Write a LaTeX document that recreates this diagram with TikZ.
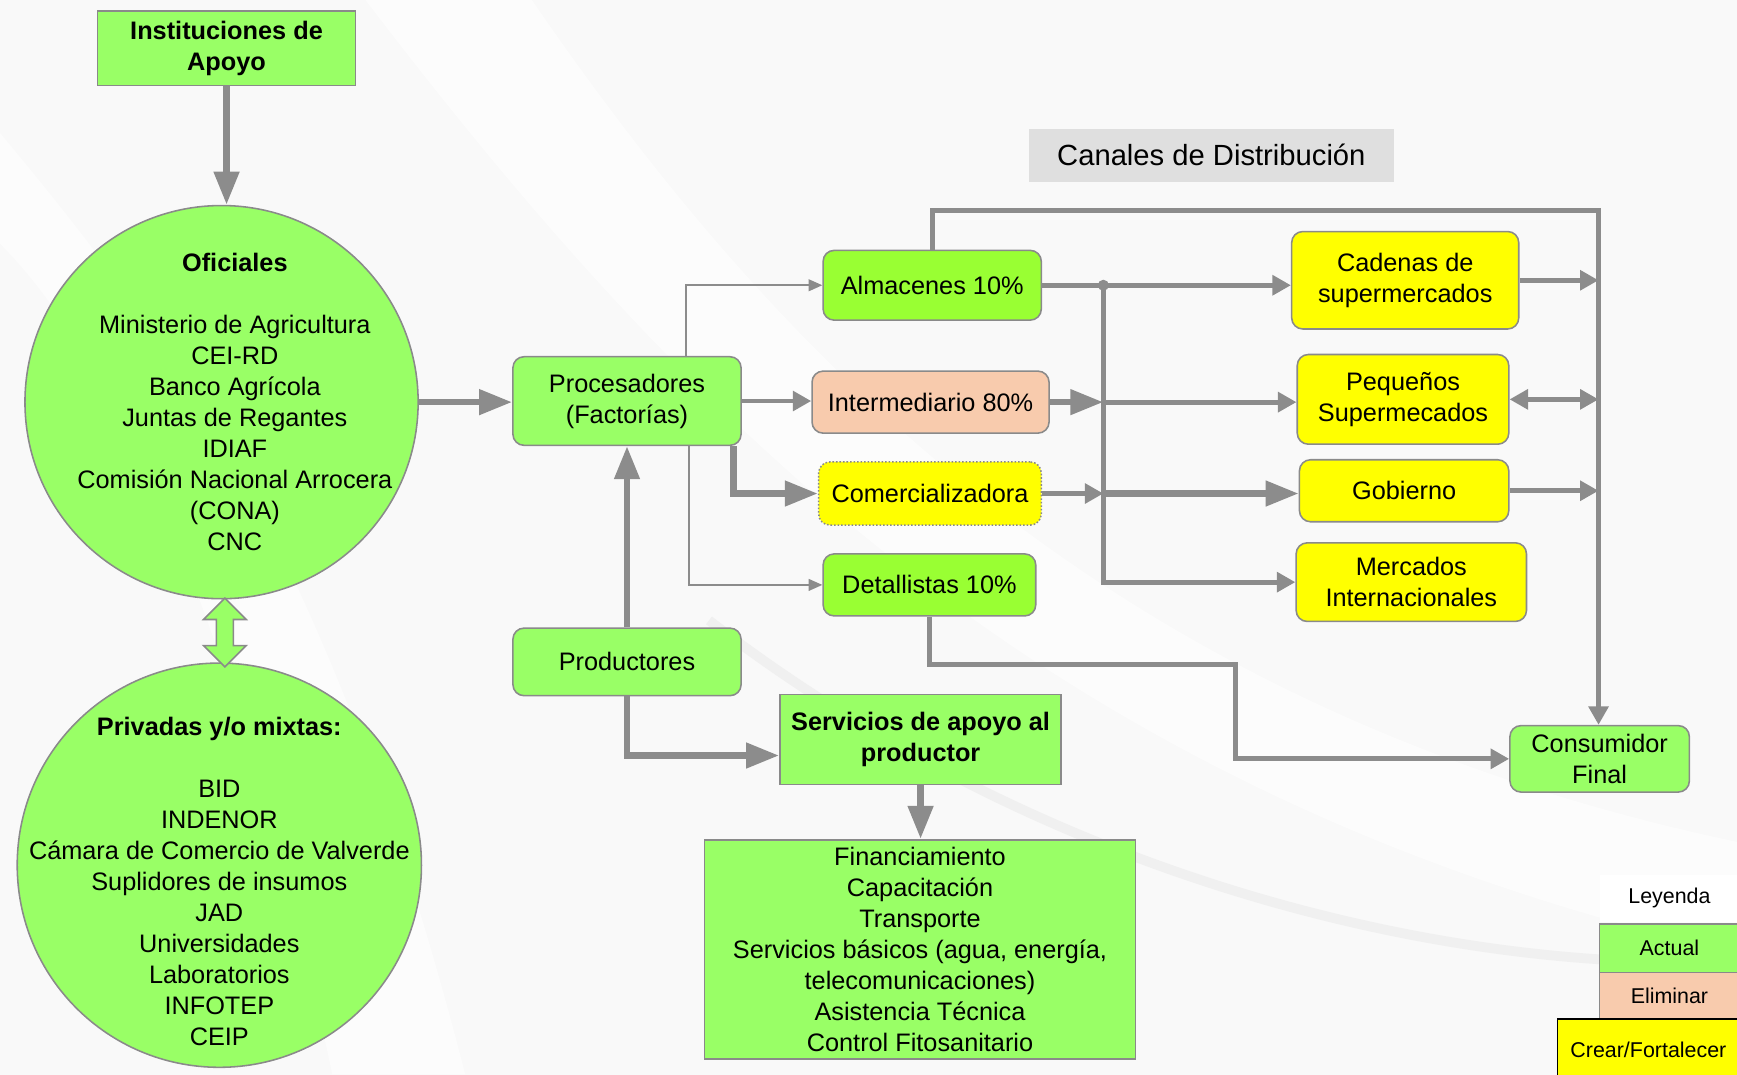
\documentclass[tikz,border=0pt]{standalone}
\usepackage{fontspec}
\setmainfont{Liberation Sans}
\usepackage{tikz}
\usetikzlibrary{positioning}
\usetikzlibrary{arrows.meta}
\usetikzlibrary{shapes.arrows}

\definecolor{verde}{HTML}{99FF66}
\definecolor{lima}{HTML}{99FF33}
\definecolor{salmon}{HTML}{F8CBAD}
\definecolor{amarillo}{HTML}{FFFF00}
\definecolor{linea}{HTML}{8C8C8C}
\definecolor{borde}{HTML}{8A8A8A}

\begin{document}
\begin{tikzpicture}[x=0.02cm,y=-0.02cm,
  every node/.style={font=\fontsize{13}{15.9}\selectfont, align=center},
  negrita/.style={font=\fontsize{13}{15.9}\selectfont\bfseries},
  caja/.style={draw=borde, line width=0.8pt, fill=verde, inner sep=1pt},
  rcaja/.style={caja, rounded corners=0.2cm},
  circulo/.style={caja, circle},
  flujo/.style={draw=linea, line width=3.4pt, -{Triangle[length=17pt,width=12.5pt]}},
  medio/.style={draw=linea, line width=2.5pt, -{Triangle[length=9.5pt,width=10pt]}},
  fino/.style={draw=linea, line width=0.9pt, -{Triangle[length=7pt,width=6pt]}},
  ley/.style={caja, minimum width=2.52cm, font=\fontsize{11}{13}\selectfont}]

\useasboundingbox (0,0) rectangle (1568,970);
\clip (0,0) rectangle (1568,970);
% fondo
\fill[gray!5] (0,0) rectangle (1568,970);
\fill[white, opacity=0.6] (330,0) .. controls (620,380) and (950,720) .. (1568,860)
  -- (1568,760) .. controls (1000,640) and (700,320) .. (480,0) -- cycle;
\fill[white, opacity=0.5] (0,120) .. controls (150,300) and (300,500) .. (420,970)
  -- (300,970) .. controls (200,500) and (80,300) .. (0,220) -- cycle;
\draw[gray!12, line width=5pt] (640,560) .. controls (900,760) and (1200,850) .. (1444,866);

% instituciones
\node[caja, negrita, minimum width=4.66cm, minimum height=1.34cm] (inst) at (204.5,43.5) {Instituciones de\\Apoyo};
\node[circulo, minimum size=7.1cm] (ofi) at (200,363) {};
\node at ([xshift=0.24cm]ofi.center) {\textbf{Oficiales}\\[15.9pt]Ministerio de Agricultura\\CEI-RD\\Banco Agrícola\\Juntas de Regantes\\IDIAF\\Comisión Nacional Arrocera\\(CONA)\\CNC};
\node[circulo, minimum size=7.3cm] (priv) at (198,781) {};
\node at ([yshift=-0.29cm]priv.center) {\textbf{Privadas y/o mixtas:}\\[15.9pt]BID\\INDENOR\\Cámara de Comercio de Valverde\\Suplidores de insumos\\JAD\\Universidades\\Laboratorios\\INFOTEP\\CEIP};
\node[double arrow, draw=borde, fill=verde, line width=0.8pt, rotate=90, minimum height=1.24cm, inner sep=0.14cm, double arrow head extend=0.23cm] (dbl) at (203,571) {};

% cadena
\node[rcaja, minimum width=4.12cm, minimum height=1.6cm] (proc) at (566,362) {Procesadores\\(Factorías)};
\node[rcaja, minimum width=4.12cm, minimum height=1.22cm] (prod) at (566,597.5) {Productores};
\node[caja, negrita, minimum width=5.08cm, minimum height=1.62cm] (serv) at (831,667.5) {Servicios de apoyo al\\productor};
\node[caja, minimum width=7.78cm, minimum height=3.96cm] (fin) at (830.5,857) {Financiamiento\\Capacitación\\Transporte\\Servicios básicos (agua, energía,\\telecomunicaciones)\\Asistencia Técnica\\Control Fitosanitario};

\node[rcaja, fill=lima, minimum width=3.94cm, minimum height=1.26cm] (alm) at (841.5,257.5) {Almacenes 10\%};
\node[rcaja, fill=salmon, minimum width=4.28cm, minimum height=1.12cm] (inter) at (840,363) {Intermediario 80\%};
\node[rcaja, fill=amarillo, densely dotted, minimum width=4.02cm, minimum height=1.14cm] (com) at (839.5,445.5) {Comercializadora};
\node[rcaja, fill=lima, minimum width=3.84cm, minimum height=1.12cm] (det) at (839,528) {Detallistas 10\%};

\node[fill=gray!25, minimum width=6.58cm, minimum height=0.96cm, font=\fontsize{15}{18}\selectfont] (tit) at (1093.5,140) {Canales de Distribución};
\node[rcaja, fill=amarillo, minimum width=4.1cm, minimum height=1.76cm] (cad) at (1268.5,253) {Cadenas de\\supermercados};
\node[rcaja, fill=amarillo, minimum width=3.82cm, minimum height=1.62cm] (peq) at (1266.5,360.5) {Pequeños\\Supermecados};
\node[rcaja, fill=amarillo, minimum width=3.78cm, minimum height=1.12cm] (gob) at (1267.5,443) {Gobierno};
\node[rcaja, fill=amarillo, minimum width=4.16cm, minimum height=1.42cm] (merc) at (1274,525.5) {Mercados\\Internacionales};
\node[rcaja, minimum width=3.24cm, minimum height=1.2cm] (cons) at (1444,685) {Consumidor\\Final};

% leyenda
\node[fill=white, minimum width=2.52cm, minimum height=0.84cm, font=\fontsize{11}{13}\selectfont] (ley) at (1507,811) {Leyenda};
\node[ley, minimum height=0.88cm] (act) at (1507,856) {Actual};
\node[ley, fill=salmon, minimum height=0.84cm] (eli) at (1507,899) {Eliminar};
\node[ley, draw=black, fill=amarillo, minimum width=3.28cm, minimum height=1.1cm] (cre) at (1488,947.5) {Crear/Fortalecer};

\coordinate (rx) at (996,0);
\coordinate (rail) at (1443,190);
\coordinate (bend) at (1115,600);

\draw[flujo] (inst.south) -- (inst.south |- ofi.north);
\draw[flujo] (ofi.east) -- (ofi.east -| proc.west);
\draw[flujo] (prod) -- (proc);
\draw[flujo] (prod.south) |- ([yshift=-0.29cm]serv.west);
\draw[flujo] (serv.south) -- (serv.south |- fin.north);
\draw[fino] ([xshift=1.06cm]proc.north) |- (alm.west);
\draw[fino] ([xshift=1.12cm]proc.south) |- (det.west);
\draw[medio] (proc.east) -- (proc.east -| inter.west);
\draw[flujo] ([xshift=1.92cm]proc.south) |- (com.west);

\draw[medio] (alm.east) -- (alm.east -| cad.west);
\fill[linea] (alm.east -| rx) circle (0.1cm);
\draw[medio] (alm.east -| rx) |- (merc.west);
\draw[flujo] (inter.east) -- (inter.east -| rx);
\draw[medio] (inter.east -| rx) -- (inter.east -| peq.west);
\draw[medio] (com.east) -- (com.east -| rx);
\draw[flujo] (com.east -| rx) -- (com.east -| gob.west);

\draw[medio] (alm.north) |- (rail) -- (rail |- cons.north);
\draw[medio] (cad.east) -- (cad.east -| rail);
\draw[medio, {Triangle[length=9.5pt,width=10pt]}-{Triangle[length=9.5pt,width=10pt]}] (peq.east) -- (peq.east -| rail);
\draw[medio] (gob.east) -- (gob.east -| rail);
\draw[medio] (det.south) |- (bend) |- (cons.west);
\end{tikzpicture}
\end{document}
